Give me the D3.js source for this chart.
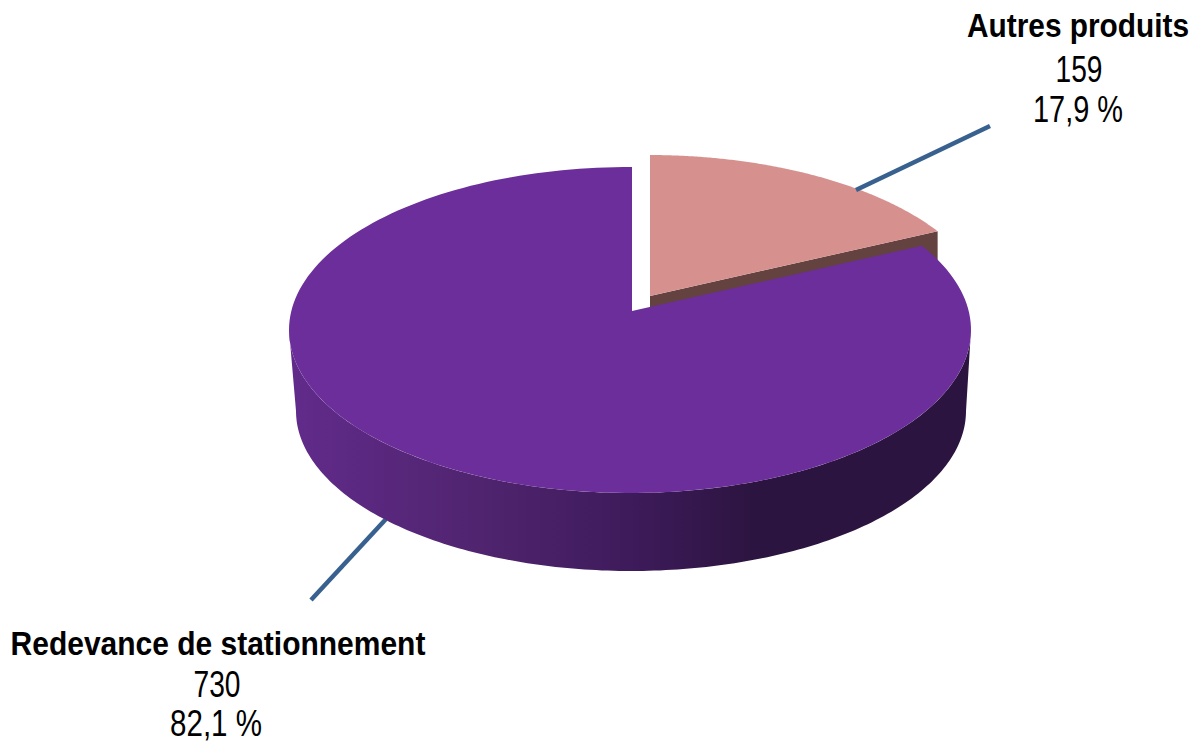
<!DOCTYPE html>
<html lang="fr">
<head>
<meta charset="utf-8">
<title>Répartition des produits</title>
<script src="https://cdn.jsdelivr.net/npm/d3@7/dist/d3.min.js"></script>
<style>
  html, body { margin: 0; padding: 0; background: #fff; }
  svg { display: block; }
  text { font-family: "Liberation Sans", Arial, sans-serif; fill: #000; text-anchor: middle; }
</style>
</head>
<body>
<svg id="chart" width="1195" height="744"></svg>
<script>
// Revenue breakdown, in the order the slices run clockwise from twelve o'clock
const categories = ["Autres produits", "Redevance de stationnement"];
const amounts = [159, 730];
const shares = ["17,9 %", "82,1 %"];

// Colours of each slice
const topColors = ["#d6918f", "#6c2e9a"];
const sideColors = ["#634240", null];
const wallStops = [
  { at: 0, color: "#612b8b" },
  { at: 0.28, color: "#50246f" },
  { at: 0.5, color: "#3e1b5b" },
  { at: 0.68, color: "#2c1440" },
  { at: 1, color: "#2c1440" }
];

// Perspective disc: top ellipse per slice, lower rim of the wall, and the foreshortening
const radiusX = 341, radiusY = 163;
const tilt = 0.47;
const discs = [
  { cx: 649, cy: 318, apexX: 650, apexY: 296, depth: 40 },
  { cx: 630, cy: 330, apexX: 632, apexY: 311, depth: 0 }
];
const lowerRim = { cx: 631, cy: 411, rx: 335, ry: 160 };

// Leader lines and label blocks
const leaders = [
  [[990, 126], [856, 190]],
  [[311, 600], [386, 519]]
];
const labelLayout = [
  { x: [1078, 1079, 1078], y: [37, 82, 122], width: [222, 47, 90] },
  { x: [218, 217, 216], y: [655, 697, 736], width: [415, 47, 92] }
];

const svg = d3.select("#chart");
const line = d3.line();

// Where a ray from the slice apex at pie angle `a` meets the slice's ellipse
function rimPoint(disc, a) {
  const dx = Math.sin(a), dy = -Math.cos(a) * tilt;
  const ox = (disc.apexX - disc.cx) / radiusX, oy = (disc.apexY - disc.cy) / radiusY;
  const ux = dx / radiusX, uy = dy / radiusY;
  const A = ux * ux + uy * uy;
  const B = 2 * (ox * ux + oy * uy);
  const C = ox * ox + oy * oy - 1;
  const t = (-B + Math.sqrt(B * B - 4 * A * C)) / (2 * A);
  return [disc.apexX + dx * t, disc.apexY + dy * t];
}

function sliceOutline(disc, arc) {
  const steps = d3.range(0, 181).map(i => arc.startAngle + (arc.endAngle - arc.startAngle) * i / 180);
  return [[disc.apexX, disc.apexY], ...steps.map(a => rimPoint(disc, a))];
}

const arcs = d3.pie().sort(null).value(d => d)(amounts);

const gradient = svg.append("defs").append("linearGradient")
  .attr("id", "wall")
  .attr("gradientUnits", "userSpaceOnUse")
  .attr("x1", discs[1].cx - radiusX).attr("x2", discs[1].cx + radiusX)
  .attr("y1", 0).attr("y2", 0);
gradient.selectAll("stop").data(wallStops).join("stop")
  .attr("offset", d => d.at)
  .attr("stop-color", d => d.color);

const leaderLine = d => line(d);

// Lower leader sits behind the disc
svg.append("path").attr("d", leaderLine(leaders[1]))
  .attr("fill", "none").attr("stroke", "#38618f").attr("stroke-width", 4.5);

// Outer wall of the large slice: front half of the top rim, back along the lower rim
const halfTurn = d3.range(0, 181).map(i => i / 180 * Math.PI);
const large = discs[1];
const wallPoints = [
  ...halfTurn.map(t => [large.cx + radiusX * Math.cos(t), large.cy + radiusY * Math.sin(t)]),
  ...halfTurn.slice().reverse().map(t => [lowerRim.cx + lowerRim.rx * Math.cos(t), lowerRim.cy + lowerRim.ry * Math.sin(t)])
];
svg.append("path").attr("d", line(wallPoints) + "Z").attr("fill", "url(#wall)");

// Small slice: cut face first, then its top
const small = discs[0];
const smallRimEnd = rimPoint(small, arcs[0].endAngle);
svg.append("path")
  .attr("d", line([
    [small.apexX, small.apexY],
    smallRimEnd,
    [smallRimEnd[0], smallRimEnd[1] + small.depth],
    [small.apexX, small.apexY + small.depth]
  ]) + "Z")
  .attr("fill", sideColors[0]);
svg.append("path").attr("d", line(sliceOutline(small, arcs[0])) + "Z").attr("fill", topColors[0]);

// Upper leader overlaps the small slice's rim
svg.append("path").attr("d", leaderLine(leaders[0]))
  .attr("fill", "none").attr("stroke", "#38618f").attr("stroke-width", 4.5);

// Top of the large slice
svg.append("path").attr("d", line(sliceOutline(large, arcs[1])) + "Z").attr("fill", topColors[1]);

// Labels: bold name, amount, share; each row is condensed horizontally to its set width
categories.forEach((name, i) => {
  const layout = labelLayout[i];
  const rows = [name, String(amounts[i]), shares[i]];
  rows.forEach((row, r) => {
    const label = svg.append("text")
      .attr("font-size", r === 0 ? 33 : 37)
      .attr("font-weight", r === 0 ? 700 : 400)
      .text(row);
    const squeeze = layout.width[r] / label.node().getComputedTextLength();
    label.attr("transform", `translate(${layout.x[r]},${layout.y[r]}) scale(${squeeze},1)`);
  });
});
</script>
</body>
</html>
